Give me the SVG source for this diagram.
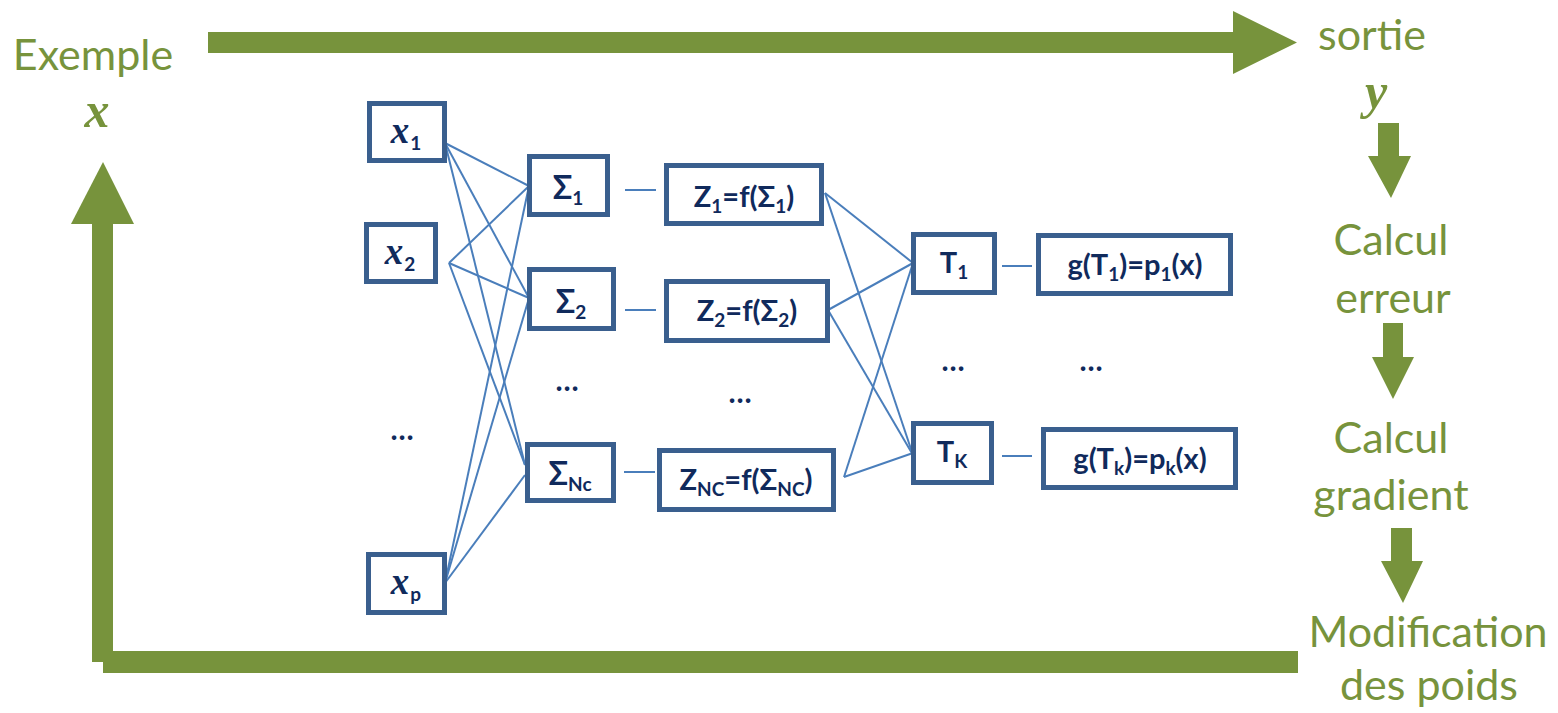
<svg xmlns="http://www.w3.org/2000/svg" width="1558" height="713" viewBox="0 0 1558 713">
  <style>
    .flow { fill: #77933C; }
    .step { font-family: Lato, "Open Sans", sans-serif; font-size: 43px; fill: #77933C; text-anchor: middle; }
    .var { font-family: "Liberation Serif", serif; font-style: italic; font-weight: bold; font-size: 50px; fill: #77933C; text-anchor: middle; }
    .box { fill: #FFFFFF; stroke: #3A5F8E; stroke-width: 5; }
    .lbl { font-family: Lato, "Open Sans", sans-serif; font-weight: bold; font-size: 29px; fill: #102A5C; text-anchor: middle; }
    .sig { font-size: 32px; }
    .sub { font-size: 19px; }
    .xin { font-family: "Liberation Serif", serif; font-style: italic; font-weight: bold; font-size: 37px; }
    .dots { font-family: Lato, "Open Sans", sans-serif; font-weight: bold; font-size: 30px; fill: #102A5C; text-anchor: middle; }
    .wire { stroke: #4A7EBB; stroke-width: 2; fill: none; }
  </style>

  <!-- training loop: forward arrow, feedback steps and return path -->
  <g id="loop">
    <polygon class="flow" points="208,32 1233,32 1233,11 1297,42.5 1233,74 1233,53 208,53"/>
    <polygon class="flow" points="1378,123 1399,123 1399,156 1411,156 1391,198 1368,156 1378,156"/>
    <polygon class="flow" points="1383,323 1403,323 1403,357 1414,357 1393,399 1372,357 1383,357"/>
    <polygon class="flow" points="1391,528 1412,528 1412,561 1423,561 1403,603 1381,561 1391,561"/>
    <rect class="flow" x="103" y="651" width="1195" height="22"/>
    <rect class="flow" x="92" y="224" width="21" height="438"/>
    <polygon class="flow" points="71,224 103,162 134,224"/>
  </g>

  <g id="loop-labels">
    <text class="step" x="93" y="70">Exemple</text>
    <text class="var" x="97" y="127">x</text>
    <text class="step" x="1372" y="50">sortie</text>
    <text class="var" x="1376" y="108">y</text>
    <text class="step" x="1391" y="255">Calcul</text>
    <text class="step" x="1393" y="313">erreur</text>
    <text class="step" x="1391" y="453">Calcul</text>
    <text class="step" x="1391" y="510">gradient</text>
    <text class="step" x="1428" y="647">Modification</text>
    <text class="step" x="1429" y="700">des poids</text>
  </g>

  <!-- network connections -->
  <g id="connectors">
    <line class="wire" x1="445" y1="143" x2="529" y2="186"/>
    <line class="wire" x1="445" y1="143" x2="529" y2="298"/>
    <line class="wire" x1="445" y1="143" x2="525" y2="465"/>
    <line class="wire" x1="449" y1="263" x2="529" y2="186"/>
    <line class="wire" x1="449" y1="263" x2="529" y2="298"/>
    <line class="wire" x1="449" y1="263" x2="525" y2="465"/>
    <line class="wire" x1="445" y1="583" x2="529" y2="186"/>
    <line class="wire" x1="445" y1="583" x2="529" y2="298"/>
    <line class="wire" x1="445" y1="583" x2="525" y2="475"/>
    <line class="wire" x1="625" y1="190" x2="656" y2="190"/>
    <line class="wire" x1="625" y1="310" x2="656" y2="310"/>
    <line class="wire" x1="624" y1="472" x2="655" y2="472"/>
    <line class="wire" x1="825" y1="193" x2="913" y2="263"/>
    <line class="wire" x1="825" y1="193" x2="913" y2="455"/>
    <line class="wire" x1="828" y1="310" x2="913" y2="263"/>
    <line class="wire" x1="828" y1="310" x2="913" y2="455"/>
    <line class="wire" x1="844" y1="477" x2="913" y2="263"/>
    <line class="wire" x1="844" y1="477" x2="913" y2="453"/>
    <line class="wire" x1="1002" y1="266" x2="1032" y2="266"/>
    <line class="wire" x1="1002" y1="456" x2="1032" y2="456"/>
  </g>

  <!-- input layer -->
  <g id="x1">
    <rect class="box" x="369.5" y="103.5" width="75" height="57"/>
    <text class="lbl" x="406" y="143"><tspan class="xin">x</tspan><tspan class="sub" dx="1" dy="7">1</tspan></text>
  </g>
  <g id="x2">
    <rect class="box" x="366.5" y="224.5" width="69" height="57"/>
    <text class="lbl" x="400" y="264"><tspan class="xin">x</tspan><tspan class="sub" dx="1" dy="7">2</tspan></text>
  </g>
  <g id="xp">
    <rect class="box" x="368.5" y="554.5" width="76" height="58"/>
    <text class="lbl" x="406" y="594"><tspan class="xin">x</tspan><tspan class="sub" dx="1" dy="7">p</tspan></text>
  </g>
  <text class="dots" x="402" y="440">…</text>

  <!-- hidden layer: weighted sums -->
  <g id="s1">
    <rect class="box" x="529.5" y="156.5" width="78" height="58"/>
    <text class="lbl" x="568" y="199"><tspan class="sig">Σ</tspan><tspan class="sub" dy="6">1</tspan></text>
  </g>
  <g id="s2">
    <rect class="box" x="529.5" y="269.5" width="84" height="59"/>
    <text class="lbl" x="571" y="313"><tspan class="sig">Σ</tspan><tspan class="sub" dy="6">2</tspan></text>
  </g>
  <g id="snc">
    <rect class="box" x="527.5" y="444.5" width="86" height="56"/>
    <text class="lbl" x="570" y="485"><tspan class="sig">Σ</tspan><tspan class="sub" dy="6">Nc</tspan></text>
  </g>
  <text class="dots" x="567" y="391">…</text>

  <!-- hidden layer: activations -->
  <g id="z1">
    <rect class="box" x="666.5" y="165.5" width="155" height="58"/>
    <text class="lbl" x="744" y="207">Z<tspan class="sub" dy="6">1</tspan><tspan dy="-6">=f(Σ</tspan><tspan class="sub" dy="6">1</tspan><tspan dy="-6">)</tspan></text>
  </g>
  <g id="z2">
    <rect class="box" x="666.5" y="281.5" width="161" height="59"/>
    <text class="lbl" x="747" y="321">Z<tspan class="sub" dy="6">2</tspan><tspan dy="-6">=f(Σ</tspan><tspan class="sub" dy="6">2</tspan><tspan dy="-6">)</tspan></text>
  </g>
  <g id="znc">
    <rect class="box" x="659.5" y="450.5" width="174" height="59"/>
    <text class="lbl" x="746" y="490">Z<tspan class="sub" dy="6">NC</tspan><tspan dy="-6">=f(Σ</tspan><tspan class="sub" dy="6">NC</tspan><tspan dy="-6">)</tspan></text>
  </g>
  <text class="dots" x="740" y="403">…</text>

  <!-- output layer -->
  <g id="t1">
    <rect class="box" x="913.5" y="234.5" width="81" height="58"/>
    <text class="lbl" x="954" y="273">T<tspan class="sub" dy="6">1</tspan></text>
  </g>
  <g id="tk">
    <rect class="box" x="913.5" y="423.5" width="78" height="59"/>
    <text class="lbl" x="952" y="462">T<tspan class="sub" dy="6">K</tspan></text>
  </g>
  <text class="dots" x="953" y="371">…</text>

  <g id="g1">
    <rect class="box" x="1038.5" y="235.5" width="192" height="58"/>
    <text class="lbl" x="1135" y="275">g(T<tspan class="sub" dy="6">1</tspan><tspan dy="-6">)=p</tspan><tspan class="sub" dy="6">1</tspan><tspan dy="-6">(x)</tspan></text>
  </g>
  <g id="gk">
    <rect class="box" x="1043.5" y="429.5" width="192" height="58"/>
    <text class="lbl" x="1140" y="469">g(T<tspan class="sub" dy="6">k</tspan><tspan dy="-6">)=p</tspan><tspan class="sub" dy="6">k</tspan><tspan dy="-6">(x)</tspan></text>
  </g>
  <text class="dots" x="1091" y="371">…</text>
</svg>
